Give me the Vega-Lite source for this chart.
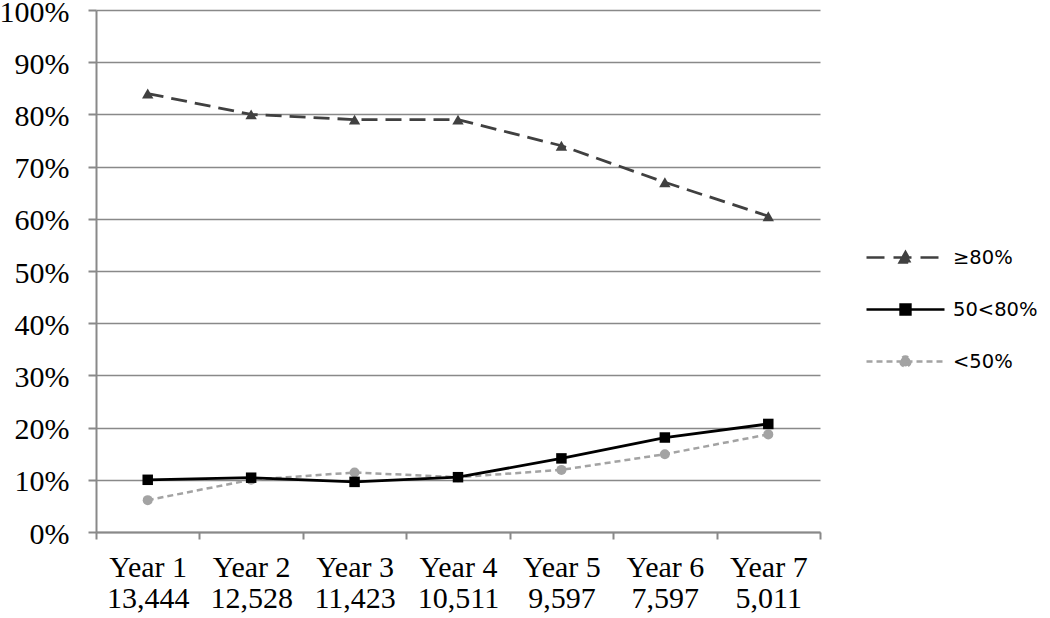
{
  "$schema": "https://vega.github.io/schema/vega-lite/v6.json",
  "width": 724,
  "height": 522,
  "autosize": {"type": "none"},
  "padding": {"left": 96, "top": 10, "right": 230, "bottom": 86},
  "background": "white",
  "config": {
    "view": {"stroke": null},
    "axis": {"labelFont": "Liberation Serif", "labelFontSize": 30, "labelColor": "#000000", "domainColor": "#898989", "tickColor": "#898989", "gridColor": "#898989", "domainWidth": 2, "tickWidth": 2, "gridWidth": 1.6, "title": null}
  },
  "data": {
    "values": [
      {"cat": "Year 1|13,444", "series": "≥80%", "value": 0.84},
      {"cat": "Year 2|12,528", "series": "≥80%", "value": 0.80},
      {"cat": "Year 3|11,423", "series": "≥80%", "value": 0.79},
      {"cat": "Year 4|10,511", "series": "≥80%", "value": 0.79},
      {"cat": "Year 5|9,597", "series": "≥80%", "value": 0.74},
      {"cat": "Year 6|7,597", "series": "≥80%", "value": 0.67},
      {"cat": "Year 7|5,011", "series": "≥80%", "value": 0.605},
      {"cat": "Year 1|13,444", "series": "50<80%", "value": 0.100},
      {"cat": "Year 2|12,528", "series": "50<80%", "value": 0.104},
      {"cat": "Year 3|11,423", "series": "50<80%", "value": 0.096},
      {"cat": "Year 4|10,511", "series": "50<80%", "value": 0.105},
      {"cat": "Year 5|9,597", "series": "50<80%", "value": 0.141},
      {"cat": "Year 6|7,597", "series": "50<80%", "value": 0.181},
      {"cat": "Year 7|5,011", "series": "50<80%", "value": 0.207},
      {"cat": "Year 1|13,444", "series": "<50%", "value": 0.061},
      {"cat": "Year 2|12,528", "series": "<50%", "value": 0.100},
      {"cat": "Year 3|11,423", "series": "<50%", "value": 0.114},
      {"cat": "Year 4|10,511", "series": "<50%", "value": 0.105},
      {"cat": "Year 5|9,597", "series": "<50%", "value": 0.119},
      {"cat": "Year 6|7,597", "series": "<50%", "value": 0.149},
      {"cat": "Year 7|5,011", "series": "<50%", "value": 0.187}
    ]
  },
  "encoding": {
    "x": {
      "field": "cat", "type": "ordinal", "sort": null, "bandPosition": 0.5,
      "scale": {"type": "band", "paddingInner": 0, "paddingOuter": 0},
      "axis": {"tickBand": "extent", "labelAngle": 0, "labelExpr": "split(datum.label, '|')", "tickSize": 7, "labelPadding": 13, "labelLineHeight": 31, "grid": false, "labelBaseline": "top"}
    },
    "y": {
      "field": "value", "type": "quantitative",
      "scale": {"domain": [0, 1], "nice": false, "zero": true},
      "axis": {"values": [0, 0.1, 0.2, 0.3, 0.4, 0.5, 0.6, 0.7, 0.8, 0.9, 1], "format": ".0%", "grid": true, "tickSize": 8, "labelPadding": 19, "labelOffset": 2, "domain": true}
    }
  },
  "layer": [
    {
      "transform": [{"filter": "datum.series === '<50%'"}],
      "mark": {"type": "line", "color": "#a3a3a3", "strokeWidth": 2.5, "strokeDash": [6, 4], "point": {"shape": "circle", "filled": true, "size": 100, "color": "#a3a3a3", "opacity": 1}}
    },
    {
      "transform": [{"filter": "datum.series === '50<80%'"}],
      "mark": {"type": "line", "color": "#000000", "strokeWidth": 2.8, "point": {"shape": "square", "filled": true, "size": 110, "color": "#000000", "opacity": 1}}
    },
    {
      "transform": [{"filter": "datum.series === '≥80%'"}],
      "mark": {"type": "line", "color": "#404040", "strokeWidth": 2.8, "strokeDash": [16, 8], "point": {"shape": "triangle-up", "filled": true, "size": 130, "color": "#404040", "opacity": 1}}
    },
    {
      "transform": [{"filter": "false"}],
      "mark": {"type": "point", "filled": true, "opacity": 1, "strokeWidth": 2.5},
      "encoding": {
        "shape": {"field": "series", "type": "nominal",
          "scale": {"domain": ["≥80%", "50<80%", "<50%"], "range": ["M-3,0H3M-0.45,0.38L0,-0.42L0.45,0.38Z", "M-3,0H3M-0.38,-0.38H0.38V0.38H-0.38Z", "M-3,0H3M-0.38,0A0.38,0.38,0,1,0,0.38,0A0.38,0.38,0,1,0,-0.38,0Z"]},
          "legend": {"orient": "none", "legendX": 795, "legendY": 233, "title": null, "labelFont": "DejaVu Sans", "labelFontSize": 19.5, "labelColor": "#000000", "labelOffset": 33, "symbolSize": 676, "symbolStrokeWidth": 2.5, "rowPadding": 27, "padding": 0, "labelLimit": 200}},
        "fill": {"field": "series", "type": "nominal",
          "scale": {"domain": ["≥80%", "50<80%", "<50%"], "range": ["#404040", "#000000", "#a3a3a3"]},
          "legend": {"orient": "none", "legendX": 795, "legendY": 233, "title": null, "labelFont": "DejaVu Sans", "labelFontSize": 19.5, "labelColor": "#000000", "labelOffset": 33, "symbolSize": 676, "symbolStrokeWidth": 2.5, "rowPadding": 27, "padding": 0, "labelLimit": 200}},
        "stroke": {"field": "series", "type": "nominal",
          "scale": {"domain": ["≥80%", "50<80%", "<50%"], "range": ["#404040", "#000000", "#a3a3a3"]},
          "legend": {"orient": "none", "legendX": 795, "legendY": 233, "title": null, "labelFont": "DejaVu Sans", "labelFontSize": 19.5, "labelColor": "#000000", "labelOffset": 33, "symbolSize": 676, "symbolStrokeWidth": 2.5, "rowPadding": 27, "padding": 0, "labelLimit": 200}},
        "strokeDash": {"field": "series", "type": "nominal",
          "scale": {"domain": ["≥80%", "50<80%", "<50%"], "range": [[18, 9], [1, 0], [6, 4]]},
          "legend": {"orient": "none", "legendX": 795, "legendY": 233, "title": null, "labelFont": "DejaVu Sans", "labelFontSize": 19.5, "labelColor": "#000000", "labelOffset": 33, "symbolSize": 676, "symbolStrokeWidth": 2.5, "rowPadding": 27, "padding": 0, "labelLimit": 200}}
      }
    }
  ]
}
